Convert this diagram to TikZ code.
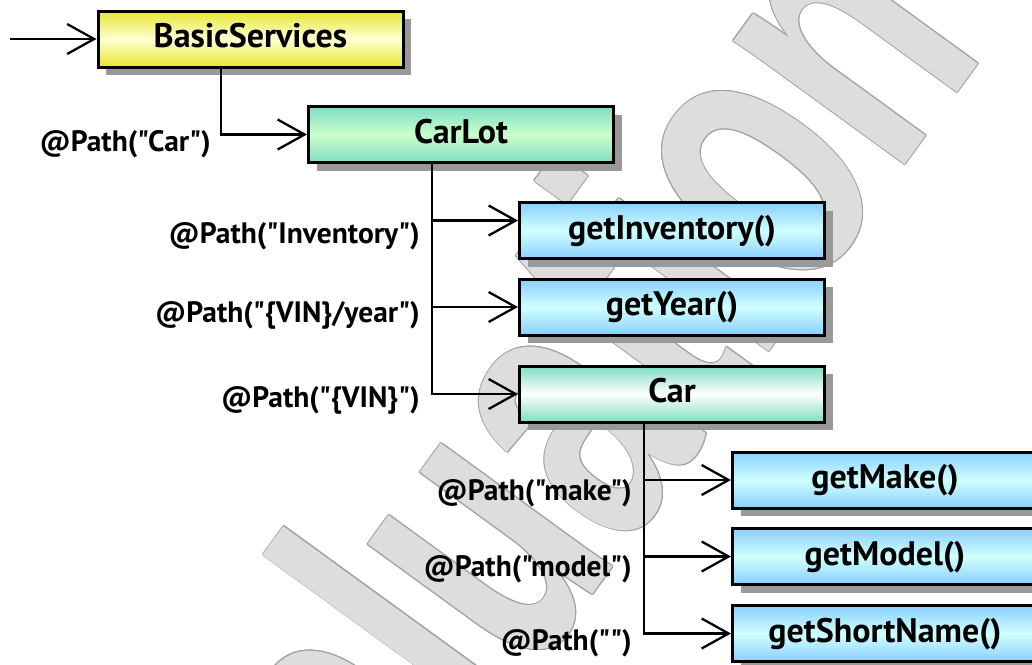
\documentclass[tikz,border=0pt]{standalone}
\usepackage{fontspec}
\newfontfamily\dfont{PT Sans}
\newfontfamily\wmfont{Liberation Sans}
\usetikzlibrary{arrows.meta,shadows}

\definecolor{ylwEdge}{HTML}{E6E632}
\definecolor{ylwMid}{HTML}{FFFFD2}
\definecolor{grnEdge}{HTML}{7FDDC2}
\definecolor{grnMid}{HTML}{CCFFCC}
\definecolor{bluEdge}{HTML}{8ACFFF}
\definecolor{bluMid}{HTML}{D0FFFF}
\definecolor{wmFill}{HTML}{DDDDDD}
\definecolor{wmLine}{HTML}{A0A0A0}
\definecolor{shadowGray}{HTML}{999999}

\begin{document}
\begin{tikzpicture}[x=1pt,y=1pt,
  box/.style={font=\dfont\fontsize{34}{40}\selectfont\bfseries, inner sep=0pt,
    draw=black, line width=3pt, minimum width=305pt, minimum height=56pt,
    text height=24pt, text depth=7pt,
    drop shadow={shadow xshift=8pt, shadow yshift=-8pt, fill=shadowGray, opacity=1}},
  svc/.style={box, top color=ylwEdge, bottom color=ylwEdge, middle color=ylwMid},
  res/.style={box, top color=grnEdge, bottom color=grnEdge, middle color=grnMid},
  sub/.style={box, top color=grnEdge, bottom color=grnEdge, middle color=white},
  meth/.style={box, top color=bluEdge, bottom color=bluEdge, middle color=bluMid},
  conn/.style={line width=2.3pt, -{Straight Barb[length=27pt, width=30pt, line width=2.3pt]}},
  lbl/.style={font=\dfont\fontsize{29.5}{35}\selectfont\bfseries, inner sep=0pt, anchor=base east},
  wm/.style={font=\wmfont\fontsize{400}{400}\selectfont\bfseries, inner sep=0pt,
    rotate=54, anchor=base west}
]
\useasboundingbox (0,0) rectangle (1032,-664);
\clip (0,0) rectangle (1032,-664);
\fill[white] (0,0) rectangle (1032,-664);

% background stamp: outline copies first, then the light fill on top
\foreach \dx/\dy in {1/0,-1/0,0/1,0/-1,0.7/0.7,-0.7/0.7,0.7/-0.7,-0.7/-0.7}{
  \node[wm, text=wmLine, xshift=\dx pt, yshift=\dy pt] at (215,-1114.5) {\scalebox{0.65}[1]{Evaluation}};
}
\node[wm, text=wmFill] (stamp) at (215,-1114.5) {\scalebox{0.65}[1]{Evaluation}};

% resource classes and methods
\node[svc]  (bs)  at (250.5,-39)   {BasicServices};
\node[res]  (cl)  at (461,-134.5)  {CarLot};
\node[meth] (inv) at (672,-230.5)  {getInventory()};
\node[meth] (yr)  at (672,-307)    {getYear()};
\node[sub]  (car) at (672,-394)    {Car};
\node[meth] (mk)  at (885,-480)    {getMake()};
\node[meth] (md)  at (885,-556.5)  {getModel()};
\node[meth] (sn)  at (885,-633.5)  {getShortName()};

% entry point
\coordinate (entry) at (10,-39);
\draw[conn] (entry) -- (bs.west);

% sub-resource locators and resource methods
\draw[conn] ([xshift=-29.5pt]bs.south) |- (cl.west);
\draw[conn] ([xshift=-29pt]cl.south) |- ([yshift=10pt]inv.west);
\draw[conn] ([xshift=-29pt]cl.south) |- (yr.west);
\draw[conn] ([xshift=-29pt]cl.south) |- (car.west);
\draw[conn] ([xshift=-28pt]car.south) |- (mk.west);
\draw[conn] ([xshift=-28pt]car.south) |- (md.west);
\draw[conn] ([xshift=-28pt]car.south) |- (sn.west);

% path annotations
\node[lbl] (lcar)   at (211,-151)  {@Path("Car")};
\node[lbl] (linv)   at (420,-243)  {@Path("Inventory")};
\node[lbl] (lyear)  at (420,-322)  {@Path("\{VIN\}/year")};
\node[lbl] (lvin)   at (420,-407)  {@Path("\{VIN\}")};
\node[lbl] (lmake)  at (632,-500)  {@Path("make")};
\node[lbl] (lmodel) at (632,-576)  {@Path("model")};
\node[lbl] (lshort) at (632,-650)  {@Path("")};
\end{tikzpicture}
\end{document}
